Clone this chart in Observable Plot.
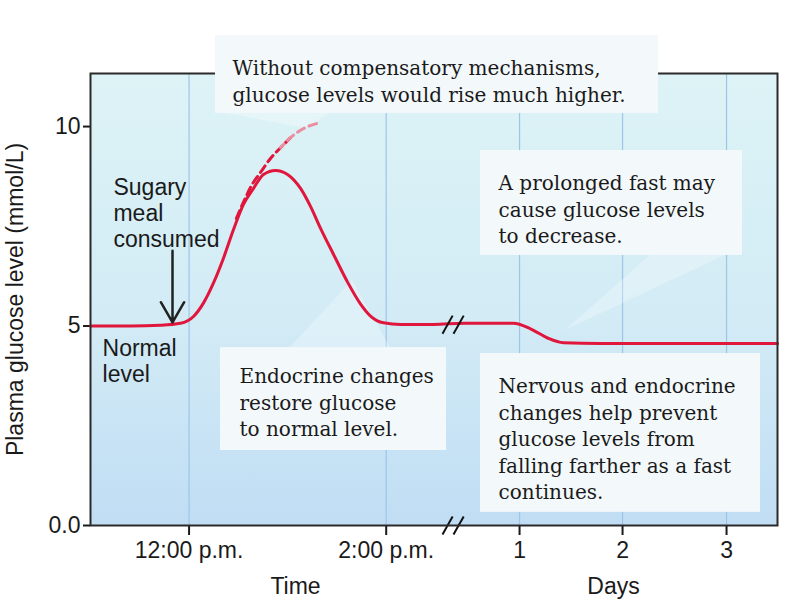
<!DOCTYPE html>
<html>
<head>
<meta charset="utf-8">
<script src="https://cdn.jsdelivr.net/npm/d3@7"></script>
<script src="https://cdn.jsdelivr.net/npm/@observablehq/plot@0.6"></script>
<style>
  body { margin: 0; background: #ffffff; }
  #chart svg { display: block; }
  g[aria-label="callout box"] rect { filter: drop-shadow(0px 2px 5px rgba(70,130,190,0.45)); }
  g[aria-label="callout text"] text { letter-spacing: 0.4px; }
  [aria-label^="x-axis"] line, [aria-label^="y-axis"] line,
  [aria-label^="x-axis"] path, [aria-label^="y-axis"] path { stroke-width: 2px; }
</style>
</head>
<body>
<div id="chart"></div>
<script>
// Horizontal position: hours after 11:00 a.m. on the left part, then an axis break, then days.
const tickPositions = [1, 3, 4.353, 5.398, 6.453];
const tickLabels = ["12:00 p.m.", "2:00 p.m.", "1", "2", "3"];
const yTicks = [0, 5, 10];
const yTickLabels = ["0.0", "5", "10"];

// Plasma glucose (mmol/L)
const curveX = [0, 0.406, 0.71, 0.913, 1.045, 1.147, 1.248, 1.349, 1.451, 1.552, 1.654, 1.755, 1.877, 1.999, 2.131, 2.232, 2.334, 2.465, 2.608, 2.74, 2.841, 2.973, 3.145, 3.48, 3.785, 4.292, 4.464, 4.637, 4.799, 5.175, 6.97];
const curveY = [5.0, 5.0, 5.02, 5.07, 5.24, 5.58, 6.08, 6.7, 7.42, 8.05, 8.45, 8.8, 8.9, 8.8, 8.45, 8.0, 7.45, 6.8, 6.1, 5.55, 5.25, 5.08, 5.04, 5.04, 5.07, 5.07, 4.93, 4.7, 4.58, 4.56, 4.56];

// Without compensation (dashed)
const dashX = [1.48, 1.56, 1.64, 1.725, 1.826, 1.928, 2.029, 2.161, 2.334];
const dashY = [7.7, 8.15, 8.55, 8.85, 9.2, 9.47, 9.72, 9.95, 10.1];

// Callouts
const calloutText = [
  "Without compensatory mechanisms,\nglucose levels would rise much higher.",
  "A prolonged fast may\ncause glucose levels\nto decrease.",
  "Endocrine changes\nrestore glucose\nto normal level.",
  "Nervous and endocrine\nchanges help prevent\nglucose levels from\nfalling farther as a fast\ncontinues."
];
const boxX1 = [1.268, 3.957, 1.319, 3.957];
const boxX2 = [5.763, 6.615, 3.612, 6.798];
const boxTop = [12.28, 9.40, 4.46, 4.31];
const boxBottom = [10.33, 6.77, 1.88, 0.33];
const textX = [1.441, 4.14, 1.512, 4.14];
const textTop = [11.76, 8.88, 4.04, 3.79];

// Pointer wedges: base on box edge, tip near the curve
const pointerBaseY = [10.33, 6.77, 4.46];
const pointerBaseX1 = [1.37, 5.68, 2.03];
const pointerBaseX2 = [2.435, 6.44, 3.04];
const pointerTipX = [2.18, 4.82, 2.66];
const pointerTipY = [9.95, 4.89, 6.14];

// Side labels
const sideLabels = ["Sugary\nmeal\nconsumed", "Normal\nlevel"];
const sideX = [0.233, 0.122];
const sideTop = [8.74, 4.72];
const sideLineHeight = [1.13, 1.13];

const axisTitles = ["Time", "Days"];
const axisTitleX = [2.08, 5.306];
const axisTitleY = -1.53;

const mealArrow = {x: 0.832, yFrom: 6.89, yTo: 5.09};
const breakX = [3.571, 3.683];
const breakDX = 0.103;
const breakLevels = [0, 5.035];
const breakHalf = 0.226;

// ---- build tables ----
const curve = curveX.map((x, i) => ({x, y: curveY[i]}));
const dash = dashX.map((x, i) => ({x, y: dashY[i]}));
const dashDark = dash.slice(0, 7);
const dashLight = dash.slice(5);
const callouts = calloutText.map((text, i) => ({
  text, x1: boxX1[i], x2: boxX2[i], y1: boxBottom[i], y2: boxTop[i], tx: textX[i], ty: textTop[i]
}));
const pointers = pointerBaseY.flatMap((y, i) => [
  {id: i, y, x1: pointerBaseX1[i], x2: pointerBaseX2[i]},
  {id: i, y: pointerTipY[i], x1: pointerTipX[i], x2: pointerTipX[i]}
]);
const side = sideLabels.map((text, i) => ({text, x: sideX[i], y: sideTop[i], lh: sideLineHeight[i]}));
const titles = axisTitles.map((text, i) => ({text, x: axisTitleX[i], y: axisTitleY}));
const breaks = breakLevels.flatMap(level => breakX.map(bx => ({
  x1: bx, x2: bx + breakDX, y1: level - breakHalf, y2: level + breakHalf
})));

const red = "#e0163d";

const svg = Plot.plot({
  width: 800,
  height: 599,
  marginLeft: 90,
  marginRight: 23,
  marginTop: 73,
  marginBottom: 74,
  style: {fontFamily: "'Liberation Sans', Arial, sans-serif", fontSize: "23px", color: "#1a1a1a", background: "transparent", overflow: "visible"},
  x: {domain: [0, 6.97], ticks: tickPositions, tickFormat: d => tickLabels[tickPositions.indexOf(d)], tickSize: 10, tickPadding: 6, label: null},
  y: {domain: [0, 11.33], ticks: yTicks, tickFormat: d => yTickLabels[yTicks.indexOf(d)], tickSize: 7, tickPadding: 3, label: null},
  marks: [
    Plot.frame({fill: "url(#bgGrad)", stroke: "none"}),
    Plot.ruleX(tickPositions, {stroke: "#9fc4ea", strokeWidth: 1.2}),
    Plot.areaX(pointers, {y: "y", x1: "x1", x2: "x2", z: "id", fill: "#ffffff", fillOpacity: 0.28, curve: "linear"}),
    Plot.line(dashDark, {x: "x", y: "y", stroke: red, strokeWidth: 3, strokeDasharray: "8,5", curve: "monotone-x"}),
    Plot.line(dashLight, {x: "x", y: "y", stroke: "#ec8ea0", strokeWidth: 3, strokeDasharray: "8,5", strokeDashoffset: 3, curve: "monotone-x"}),
    Plot.line(curve, {x: "x", y: "y", stroke: red, strokeWidth: 3, curve: "monotone-x"}),
    Plot.link(breaks, {x1: "x1", y1: "y1", x2: "x2", y2: "y2", stroke: "#111", strokeWidth: 2}),
    Plot.arrow([mealArrow], {x1: "x", x2: "x", y1: "yFrom", y2: "yTo", stroke: "#222", strokeWidth: 2.5, headLength: 14}),
    Plot.frame({stroke: "#2a2a2a", strokeWidth: 2}),
    Plot.rect(callouts, {x1: "x1", x2: "x2", y1: "y1", y2: "y2", fill: "#f3f8fb", ariaLabel: "callout box"}),
    Plot.text(callouts, {x: "tx", y: "ty", text: "text", textAnchor: "start", lineAnchor: "top", lineHeight: 1.325, fontFamily: "'DejaVu Serif', serif", fontSize: 20, fill: "#1a1a1a", ariaLabel: "callout text"}),
    Plot.text(side, {x: "x", y: "y", text: "text", textAnchor: "start", lineAnchor: "top", lineHeight: 1.13, fill: "#1a1a1a"}),
    Plot.text(titles, {x: "x", y: "y", text: "text", textAnchor: "middle", lineAnchor: "middle", fill: "#1a1a1a"}),
    Plot.text(["Plasma glucose level (mmol/L)"], {text: d => d, frameAnchor: "left", rotate: -90, dx: -75, textAnchor: "middle", lineAnchor: "middle", fill: "#1a1a1a"})
  ]
});

const defs = d3.create("svg:defs");
const grad = defs.append("linearGradient").attr("id", "bgGrad").attr("x1", 0).attr("y1", 0).attr("x2", 0).attr("y2", 1);
grad.append("stop").attr("offset", "0%").attr("stop-color", "#ddf3f6");
grad.append("stop").attr("offset", "55%").attr("stop-color", "#d2ebf5");
grad.append("stop").attr("offset", "100%").attr("stop-color", "#c0ddf4");
svg.insertBefore(defs.node(), svg.firstChild);

document.getElementById("chart").appendChild(svg);
</script>
</body>
</html>
